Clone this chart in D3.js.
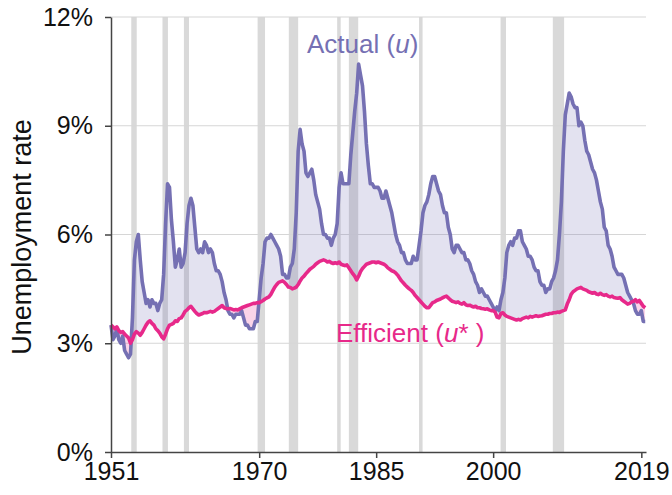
<!DOCTYPE html>
<html>
<head>
<meta charset="utf-8">
<script src="https://cdn.jsdelivr.net/npm/d3@7"></script>
<style>
body { margin: 0; background: #fff; }
text { font-family: "Liberation Sans", Arial, Helvetica, sans-serif; }
</style>
</head>
<body>
<div id="chart"></div>
<script>
// quarterly series, first value = 1951 Q1
const startYear = 1951;

const actual = [
  3.5, 3.1, 3.2, 3.4,   3.1, 3.0, 3.2, 2.8,   2.7, 2.6, 2.7, 3.7,   5.3, 5.8, 6.0, 5.3,
  4.7, 4.4, 4.1, 4.2,   4.0, 4.2, 4.1, 4.1,   3.9, 4.1, 4.2, 4.9,   6.3, 7.4, 7.3, 6.4,
  5.8, 5.1, 5.3, 5.6,   5.1, 5.2, 5.5, 6.3,   6.8, 7.0, 6.8, 6.2,   5.6, 5.5, 5.6, 5.5,
  5.8, 5.7, 5.5, 5.6,   5.5, 5.2, 5.0, 5.0,   4.9, 4.7, 4.4, 4.2,   3.9, 3.8, 3.8, 3.7,
  3.8, 3.8, 3.8, 3.9,   3.7, 3.5, 3.5, 3.4,   3.4, 3.4, 3.6, 3.6,   4.2, 4.8, 5.2, 5.8,
  5.9, 5.9, 6.0, 5.9,   5.8, 5.7, 5.6, 5.4,   4.9, 4.9, 4.8, 4.8,   5.1, 5.2, 5.6, 6.6,
  8.3, 8.9, 8.5, 8.3,   7.7, 7.6, 7.7, 7.8,   7.5, 7.1, 6.9, 6.7,   6.3, 6.0, 6.0, 5.9,
  5.9, 5.7, 5.9, 6.0,   6.3, 7.3, 7.7, 7.4,   7.4, 7.4, 7.4, 8.2,   8.8, 9.4, 9.9, 10.7,
  10.4, 10.1, 9.4, 8.5, 7.9, 7.4, 7.4, 7.3,   7.3, 7.3, 7.2, 7.0,   7.0, 7.2, 7.0, 6.8,
  6.6, 6.3, 6.0, 5.8,   5.7, 5.5, 5.5, 5.3,   5.2, 5.2, 5.2, 5.4,   5.3, 5.3, 5.7, 6.1,
  6.6, 6.8, 6.9, 7.1,   7.4, 7.6, 7.6, 7.4,   7.2, 7.1, 6.8, 6.6,   6.6, 6.2, 6.0, 5.6,
  5.5, 5.7, 5.7, 5.6,   5.5, 5.5, 5.3, 5.3,   5.2, 5.0, 4.9, 4.7,   4.6, 4.4, 4.5, 4.4,
  4.3, 4.3, 4.2, 4.1,   4.0, 3.9, 4.0, 3.9,   4.2, 4.4, 4.8, 5.5,   5.7, 5.8, 5.7, 5.9,
  5.9, 6.1, 6.1, 5.8,   5.7, 5.6, 5.4, 5.4,   5.3, 5.1, 5.0, 5.0,   4.7, 4.6, 4.6, 4.4,
  4.5, 4.5, 4.7, 4.8,   5.0, 5.3, 6.0, 6.9,   8.3, 9.3, 9.6, 9.9,   9.8, 9.6, 9.5, 9.5,
  9.0, 9.1, 9.0, 8.6,   8.3, 8.2, 8.0, 7.8,   7.7, 7.5, 7.2, 6.9,   6.7, 6.2, 6.1, 5.7,
  5.6, 5.4, 5.1, 5.0,   4.9, 4.9, 4.9, 4.8,   4.6, 4.4, 4.3, 4.2,   4.1, 3.9, 3.8, 3.8,
  3.9, 3.6, 3.6
];

const efficient = [
  3.50, 3.45, 3.40, 3.45,  3.35, 3.30, 3.32, 3.25,  3.20, 3.15, 3.00, 3.10,  3.25, 3.32, 3.28, 3.22,
  3.30, 3.40, 3.50, 3.58,  3.62, 3.55, 3.50, 3.40,  3.35, 3.28, 3.18, 3.12,  3.25, 3.40, 3.50, 3.52,
  3.55, 3.62, 3.60, 3.68,  3.70, 3.78, 3.88, 3.92,  3.98, 4.02, 3.95, 3.88,  3.82, 3.78, 3.80, 3.82,
  3.85, 3.84, 3.86, 3.88,  3.86, 3.88, 3.92, 3.96,  4.00, 4.04, 3.98, 3.96,  3.95, 3.96, 3.94, 3.92,
  3.93, 3.92, 3.95, 3.98,  4.00, 4.02, 4.04, 4.06,  4.08, 4.10, 4.10, 4.12,  4.12, 4.15, 4.18, 4.22,
  4.25, 4.28, 4.35, 4.45,  4.55, 4.62, 4.68, 4.70,  4.72, 4.68, 4.62, 4.55,  4.54, 4.50, 4.52, 4.55,
  4.62, 4.72, 4.80, 4.85,  4.92, 4.98, 5.04, 5.08,  5.12, 5.18, 5.22, 5.26,  5.28, 5.30, 5.28, 5.24,
  5.26, 5.22, 5.20, 5.22,  5.20, 5.24, 5.18, 5.16,  5.14, 5.16, 5.08, 5.00,  4.92, 4.85, 4.75, 4.85,
  4.98, 5.06, 5.12, 5.18,  5.20, 5.22, 5.24, 5.24,  5.22, 5.24, 5.22, 5.20,  5.18, 5.14, 5.08, 5.04,
  5.00, 4.98, 4.94, 4.88,  4.80, 4.72, 4.66, 4.60,  4.55, 4.50, 4.46, 4.40,  4.32, 4.26, 4.20, 4.14,
  4.08, 4.02, 3.98, 3.98,  4.05, 4.12, 4.14, 4.18,  4.20, 4.22, 4.25, 4.28,  4.30, 4.25, 4.20, 4.16,
  4.14, 4.12, 4.14, 4.10,  4.08, 4.12, 4.06, 4.04,  4.05, 4.02, 4.00, 4.02,  3.98, 3.98, 3.96, 3.95,
  3.94, 3.95, 3.92, 3.90,  3.90, 3.86, 3.72, 3.70,  3.82, 3.84, 3.78, 3.74,  3.72, 3.70, 3.68, 3.66,
  3.64, 3.66, 3.64, 3.68,  3.70, 3.72, 3.70, 3.74,  3.72, 3.74, 3.76, 3.74,  3.75, 3.76, 3.78, 3.80,
  3.80, 3.82, 3.82, 3.84,  3.84, 3.86, 3.85, 3.88,  3.90, 3.92, 4.08, 4.20,  4.35, 4.42, 4.46, 4.50,
  4.52, 4.54, 4.50, 4.48,  4.46, 4.42, 4.40, 4.38,  4.40, 4.36, 4.34, 4.38,  4.34, 4.32, 4.34, 4.30,
  4.28, 4.30, 4.26, 4.25,  4.24, 4.26, 4.20, 4.16,  4.12, 4.08, 4.10, 4.14,  4.16, 4.20, 4.14, 4.18,
  4.10, 4.02, 3.98
];

// recessions (start, end)
const recStart = [1953.6, 1957.6, 1960.35, 1969.8, 1973.8, 1980.0, 1981.5, 1990.5, 2000.95, 2007.65];
const recEnd   = [1954.3, 1958.3, 1961.0, 1970.75, 1975.0, 1980.45, 1982.7, 1990.95, 2001.65, 2009.1];

const xTicks = [1951, 1970, 1985, 2000, 2019];
const yTicks = [0, 3, 6, 9, 12];

const W = 672, H = 495;
const margin = {top: 17, right: 26, bottom: 43, left: 111};
const width = W - margin.left - margin.right,
      height = H - margin.top - margin.bottom;

const purple = "#7570b3", pink = "#e7298a";

const data = actual.map((u, i) => ({t: startYear + i / 4, u: u, e: efficient[i]}));

const svg = d3.select("#chart").append("svg")
    .attr("width", W)
    .attr("height", H)
  .append("g")
    .attr("transform", `translate(${margin.left},${margin.top})`);

const x = d3.scaleLinear().domain([1951, 2019.6]).range([0, width]);
const y = d3.scaleLinear().domain([0, 12]).range([height, 0]);

// recession bars
svg.append("g").selectAll("rect")
  .data(recStart)
  .enter().append("rect")
    .attr("x", d => x(d))
    .attr("y", 0)
    .attr("width", (d, i) => x(recEnd[i]) - x(d))
    .attr("height", height)
    .attr("fill", "#d9d9d9");

// grid
svg.append("g").selectAll("line")
  .data(yTicks.filter(d => d > 0))
  .enter().append("line")
    .attr("x1", 0).attr("x2", width)
    .attr("y1", d => y(d)).attr("y2", d => y(d))
    .attr("stroke", "#d6d6d6")
    .attr("stroke-width", 1.2);

// clip paths for the gap between the two series
const defs = svg.append("defs");
defs.append("clipPath").attr("id", "above")
  .append("path")
    .attr("d", d3.area().x(d => x(d.t)).y0(-5).y1(d => y(d.e))(data));
defs.append("clipPath").attr("id", "below")
  .append("path")
    .attr("d", d3.area().x(d => x(d.t)).y0(height + 5).y1(d => y(d.e))(data));

const gap = d3.area().x(d => x(d.t)).y0(d => y(d.e)).y1(d => y(d.u));

svg.append("path")
    .datum(data)
    .attr("clip-path", "url(#above)")
    .attr("d", gap)
    .attr("fill", purple)
    .attr("fill-opacity", 0.2);

svg.append("path")
    .datum(data)
    .attr("clip-path", "url(#below)")
    .attr("d", gap)
    .attr("fill", pink)
    .attr("fill-opacity", 0.2);

// lines
svg.append("path")
    .datum(data)
    .attr("fill", "none")
    .attr("stroke", purple)
    .attr("stroke-width", 3.6)
    .attr("stroke-linejoin", "round")
    .attr("d", d3.line().x(d => x(d.t)).y(d => y(d.u)));

svg.append("path")
    .datum(data)
    .attr("fill", "none")
    .attr("stroke", pink)
    .attr("stroke-width", 3.6)
    .attr("stroke-linejoin", "round")
    .attr("d", d3.line().x(d => x(d.t)).y(d => y(d.e)));

// axes
const yAxis = svg.append("g")
    .call(d3.axisLeft(y).tickValues(yTicks).tickFormat(d => d + "%")
      .tickSize(6).tickSizeOuter(0).tickPadding(12));

const xAxis = svg.append("g")
    .attr("transform", `translate(0,${height})`)
    .call(d3.axisBottom(x).tickValues(xTicks).tickFormat(d3.format("d"))
      .tickSize(6).tickSizeOuter(0).tickPadding(4));

svg.selectAll(".domain, .tick line")
    .attr("stroke", "#444")
    .attr("stroke-width", 1.5);
svg.selectAll(".tick text")
    .attr("fill", "#111")
    .style("font-size", "25px")
    .style("font-family", "'Liberation Sans', Arial, sans-serif");

// axis title
svg.append("text")
    .attr("transform", `translate(${22 - margin.left},${237 - margin.top}) rotate(-90)`)
    .attr("text-anchor", "middle")
    .attr("dy", "0.35em")
    .attr("fill", "#111")
    .style("font-size", "27px")
    .text("Unemployment rate");

// series labels
const lab1 = svg.append("text")
    .attr("x", 307 - margin.left)
    .attr("y", 53 - margin.top)
    .attr("fill", purple)
    .style("font-size", "26px");
lab1.append("tspan").text("Actual (");
lab1.append("tspan").style("font-style", "italic").text("u");
lab1.append("tspan").text(")");

const lab2 = svg.append("text")
    .attr("x", 336 - margin.left)
    .attr("y", 342 - margin.top)
    .attr("fill", pink)
    .style("font-size", "26px");
lab2.append("tspan").text("Efficient (");
lab2.append("tspan").style("font-style", "italic").text("u");
lab2.append("tspan").text("* )");
</script>
</body>
</html>
